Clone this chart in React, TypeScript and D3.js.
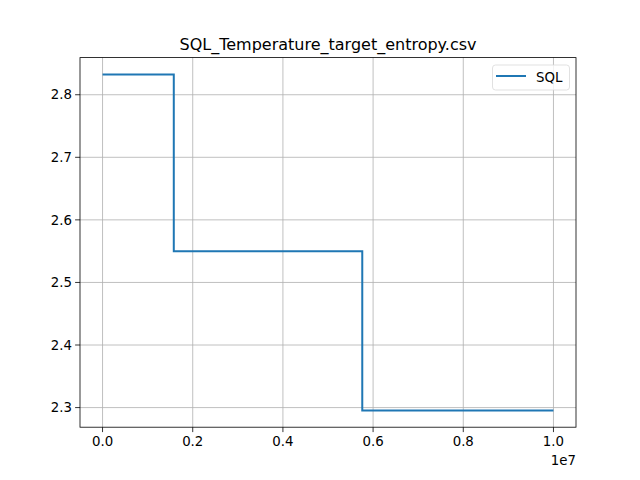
import React from "react";
import * as d3 from "d3";

// step data (drawstyle steps-post)
const xs = [0, 1580000, 5760000, 10000000];
const ys = [2.8325, 2.55, 2.2955, 2.2955];
const xTicks = [0, 0.2e7, 0.4e7, 0.6e7, 0.8e7, 1.0e7];
const yTicks = [2.3, 2.4, 2.5, 2.6, 2.7, 2.8];
const seriesName = "SQL";
const title = "SQL_Temperature_target_entropy.csv";

const W = 640, H = 480;
const L = 80, R = 576, T = 57.6, B = 427.2;
const font = "DejaVu Sans, sans-serif";

export default function App() {
  const xPad = (1e7 - 0) * 0.05;
  const yPad = (d3.max(ys)! - d3.min(ys)!) * 0.05;
  const x = d3.scaleLinear().domain([0 - xPad, 1e7 + xPad]).range([L, R]);
  const y = d3.scaleLinear().domain([d3.min(ys)! - yPad, d3.max(ys)! + yPad]).range([B, T]);

  const line = d3.line<number>()
    .x((d, i) => x(xs[i]))
    .y((d) => y(d))
    .curve(d3.curveStepAfter);

  return (
    <svg width={W} height={H} style={{ position: "absolute", left: 0, top: 0 }} fontFamily={font}>
      <rect width={W} height={H} fill="#fff" />
      <text x={(L + R) / 2} y={T - 8} textAnchor="middle" fontSize={16}>{title}</text>
      {xTicks.map((t) => (
        <g key={"x" + t}>
          <line x1={x(t)} x2={x(t)} y1={T} y2={B} stroke="#b0b0b0" strokeWidth={0.8} />
          <line x1={x(t)} x2={x(t)} y1={B} y2={B + 4.9} stroke="#000" strokeWidth={0.8} />
          <text x={x(t)} y={B + 19} textAnchor="middle" fontSize={13.33}>{(t / 1e7).toFixed(1)}</text>
        </g>
      ))}
      {yTicks.map((t) => (
        <g key={"y" + t}>
          <line x1={L} x2={R} y1={y(t)} y2={y(t)} stroke="#b0b0b0" strokeWidth={0.8} />
          <line x1={L - 4.9} x2={L} y1={y(t)} y2={y(t)} stroke="#000" strokeWidth={0.8} />
          <text x={L - 8} y={y(t)} dy="0.35em" textAnchor="end" fontSize={13.33}>{t.toFixed(1)}</text>
        </g>
      ))}
      <text x={R} y={B + 38} textAnchor="end" fontSize={13.33}>1e7</text>
      <path d={line(ys) || ""} fill="none" stroke="#1f77b4" strokeWidth={2} />
      <rect x={L} y={T} width={R - L} height={B - T} fill="none" stroke="#000" strokeWidth={0.8} />
      <g>
        <rect x={492.5} y={65} width={77} height={25} rx={3} fill="#fff" fillOpacity={0.8} stroke="#d9d9d9" strokeWidth={0.8} />
        <line x1={496} x2={526} y1={76} y2={76} stroke="#1f77b4" strokeWidth={2} />
        <text x={536} y={81.5} fontSize={13.33}>{seriesName}</text>
      </g>
    </svg>
  );
}
